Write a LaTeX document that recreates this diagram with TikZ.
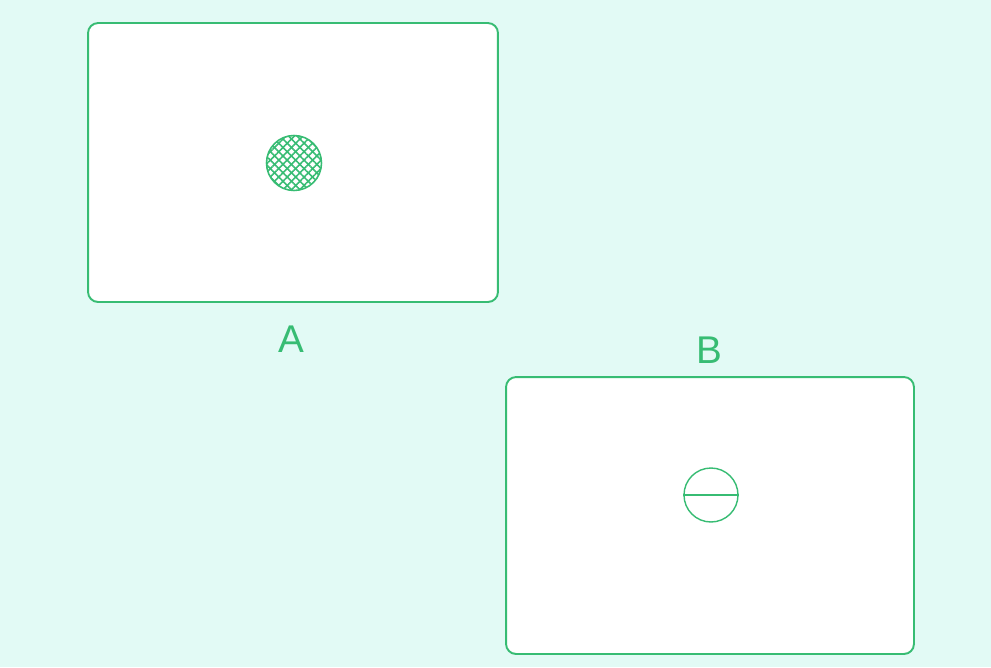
\documentclass[tikz,border=0pt]{standalone}
\usepackage{fontspec}
\setsansfont{Liberation Sans}
\usepackage{tikz}
\usetikzlibrary{patterns.meta}
\definecolor{bgcyan}{RGB}{226,250,245}
\definecolor{lgreen}{RGB}{55,188,115}

\begin{document}
\begin{tikzpicture}[x=0.02cm,y=-0.02cm]
\tikzset{frame/.style={draw=lgreen,line width=1.1pt,rounded corners=0.2cm,fill=white,inner sep=0pt}}
\fill[bgcyan] (0,0) rectangle (991,667);
\useasboundingbox (0,0) rectangle (991,667);
\node (boxA) at (293,162.5) [frame,minimum width=8.2cm,minimum height=5.58cm] {};
\node (boxB) at (710,515.5) [frame,minimum width=8.16cm,minimum height=5.54cm] {};
\node (spotA) at (294,163) [draw=lgreen,line width=0.9pt,circle,minimum size=1.1cm,inner sep=0pt,
  pattern={Lines[angle=45,distance=3.4pt,line width=0.9pt]},pattern color=lgreen] {};
\node (spotA2) at (294,163) [circle,minimum size=1.1cm,inner sep=0pt,
  pattern={Lines[angle=-45,distance=3.4pt,line width=0.9pt]},pattern color=lgreen] {};
\node (spotB) at (711,495) [draw=lgreen,line width=0.8pt,circle,minimum size=1.08cm,inner sep=0pt] {};
\node (labA) at (291,339) [text=lgreen,font=\sffamily\fontsize{22}{26}\selectfont] {A};
\node (labB) at (709,350) [text=lgreen,font=\sffamily\fontsize{22}{26}\selectfont] {B};

\path
(spotB.west) edge [draw=lgreen, line width=0.8pt] (spotB.east);
\end{tikzpicture}
\end{document}
